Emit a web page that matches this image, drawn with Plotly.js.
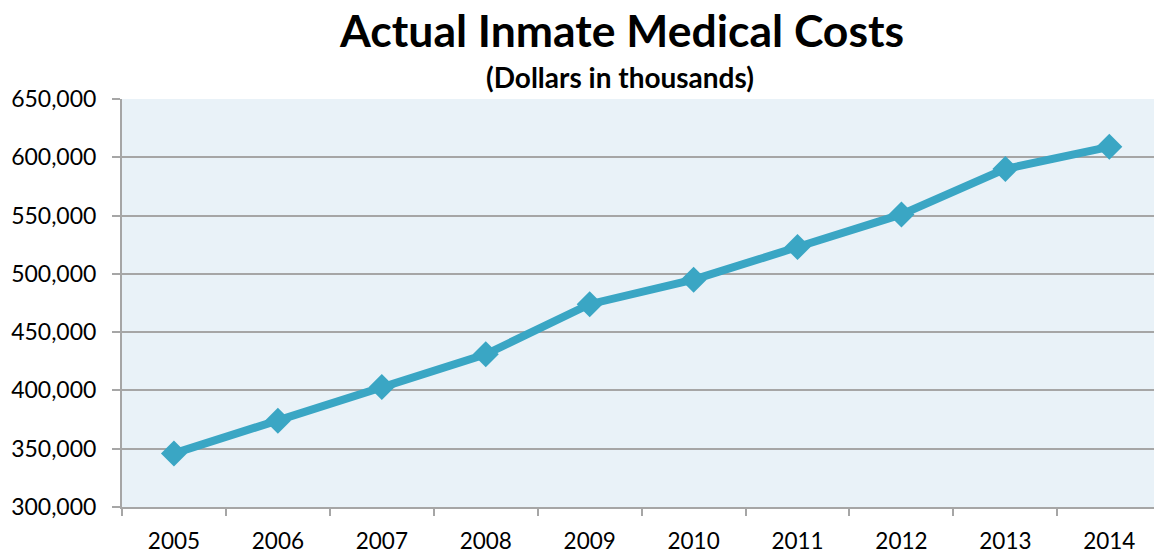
<!DOCTYPE html>
<html>
<head>
<meta charset="utf-8">
<script src="https://cdn.plot.ly/plotly-3.0.1.min.js"></script>
<style>html,body{margin:0;padding:0;background:#fff;}#chart{width:1154px;height:554px;}</style>
</head>
<body>
<div id="chart"></div>
<script>
const years = ["2005","2006","2007","2008","2009","2010","2011","2012","2013","2014"];
const costs = [346000, 374000, 403000, 431000, 474000, 495000, 523000, 551000, 590000, 609000];
const yTicks = [300000, 350000, 400000, 450000, 500000, 550000, 600000, 650000];
const yTickLabels = ["300,000","350,000","400,000","450,000","500,000","550,000","600,000","650,000"];
const titleText = "Actual Inmate Medical Costs";
const subtitleText = "(Dollars in thousands)";

const fontFam = "Lato, 'Open Sans', sans-serif";

const trace = {
  x: years,
  y: costs,
  type: "scatter",
  mode: "lines+markers",
  line: {color: "#3AA6C4", width: 8},
  marker: {symbol: "diamond", size: 20, color: "#3AA6C4"},
  hoverinfo: "skip",
  cliponaxis: false
};

const layout = {
  width: 1154, height: 554,
  margin: {l: 122, r: 0, t: 98.5, b: 46.5, pad: 0},
  paper_bgcolor: "#ffffff",
  plot_bgcolor: "#E9F2F8",
  showlegend: false,
  font: {family: fontFam, color: "#000"},
  xaxis: {
    type: "category",
    range: [-0.5, 9.43],
    tickson: "boundaries",
    ticks: "outside",
    ticklen: 7,
    tickwidth: 2,
    tickcolor: "#A6A6A6",
    showgrid: false,
    showline: true,
    linecolor: "#A6A6A6",
    linewidth: 2,
    tickfont: {family: fontFam, size: 22.5, color: "#000"},
    ticklabelstandoff: 13,
    fixedrange: true
  },
  yaxis: {
    range: [300000, 650000],
    tickvals: yTicks,
    ticktext: yTickLabels,
    ticks: "outside",
    ticklen: 8,
    tickwidth: 2,
    tickcolor: "#A6A6A6",
    showgrid: true,
    gridcolor: "#A6A6A6",
    gridwidth: 2,
    showline: true,
    linecolor: "#A6A6A6",
    linewidth: 2,
    zeroline: false,
    tickfont: {family: fontFam, size: 23, color: "#000"},
    ticklabelstandoff: 11,
    fixedrange: true
  },
  annotations: [
    {text: "<b>" + titleText + "</b>", xref: "paper", yref: "paper", x: 0.484, y: 1, yshift: 70,
     xanchor: "center", yanchor: "middle", showarrow: false,
     font: {family: fontFam, size: 44.5, color: "#000"}},
    {text: "<b>" + subtitleText + "</b>", xref: "paper", yref: "paper", x: 0.483, y: 1, yshift: 22,
     xanchor: "center", yanchor: "middle", showarrow: false,
     font: {family: fontFam, size: 28, color: "#000"}}
  ]
};

Plotly.newPlot("chart", [trace], layout, {displayModeBar: false, staticPlot: true});
</script>
</body>
</html>
